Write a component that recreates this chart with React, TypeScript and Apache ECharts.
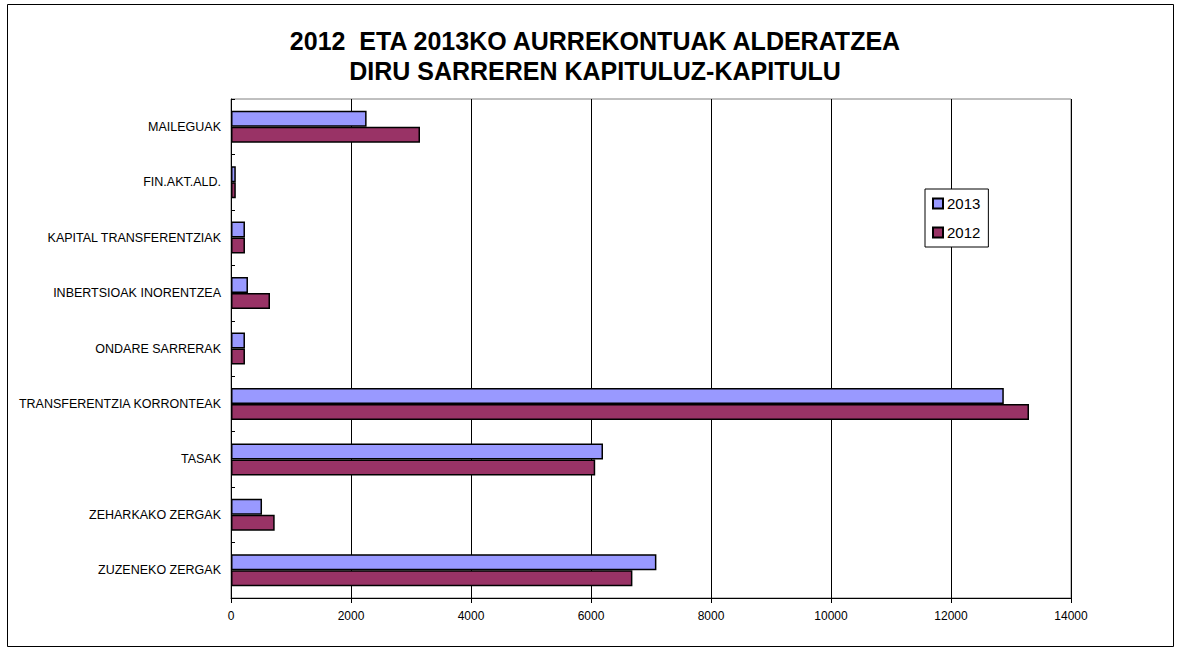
import React, { useEffect, useRef } from "react";
import * as echarts from "echarts";

const categories = [
  "MAILEGUAK",
  "FIN.AKT.ALD.",
  "KAPITAL TRANSFERENTZIAK",
  "INBERTSIOAK INORENTZEA",
  "ONDARE SARRERAK",
  "TRANSFERENTZIA KORRONTEAK",
  "TASAK",
  "ZEHARKAKO ZERGAK",
  "ZUZENEKO ZERGAK",
];
const values2013 = [2260, 80, 233, 283, 233, 12880, 6200, 517, 7090];
const values2012 = [3150, 80, 233, 650, 233, 13300, 6070, 728, 6690];
const xTicks = { min: 0, max: 14000, interval: 2000 };
const titleLines = ["2012  ETA 2013KO AURREKONTUAK ALDERATZEA", "DIRU SARREREN KAPITULUZ-KAPITULU"];

export default function App() {
  const ref = useRef<HTMLDivElement>(null);
  useEffect(() => {
    if (!ref.current) return;
    const chart = echarts.init(ref.current, null, { renderer: "svg" });
    const font = "Arial, 'Liberation Sans', sans-serif";
    chart.setOption({
      animation: false,
      backgroundColor: "#fff",
      textStyle: { fontFamily: font },
      title: {
        text: titleLines.join("\n"),
        left: 590,
        top: 21,
        textAlign: "center",
        textStyle: { fontSize: 25, fontWeight: "bold", color: "#000", lineHeight: 30, fontFamily: font },
      },
      graphic: [
        {
          type: "rect",
          shape: { x: 7.5, y: 4.5, width: 1166, height: 642 },
          style: { fill: "none", stroke: "#000", lineWidth: 1 },
          silent: true,
        },
      ],
      legend: {
        orient: "vertical",
        left: 925,
        top: 189,
        padding: [7, 8, 7, 7],
        itemWidth: 10,
        itemHeight: 10,
        itemGap: 14,
        borderColor: "#000",
        borderWidth: 1,
        backgroundColor: "#fff",
        icon: "rect",
        textStyle: { fontSize: 15, color: "#000", padding: [0, 0, 0, -1] },
        data: ["2013", "2012"],
      },
      grid: {
        left: 231,
        right: 108,
        top: 99,
        bottom: 51,
        show: true,
        borderColor: "#808080",
        borderWidth: 1,
      },
      xAxis: {
        type: "value",
        min: xTicks.min,
        max: xTicks.max,
        interval: xTicks.interval,
        axisLine: { show: true, lineStyle: { color: "#000" } },
        axisTick: { show: true, length: 5, lineStyle: { color: "#000" } },
        axisLabel: { fontSize: 12, color: "#000", margin: 12, formatter: (v: number) => String(v) },
        splitLine: { show: true, lineStyle: { color: "#000", width: 1 } },
      },
      yAxis: {
        type: "category",
        inverse: true,
        data: categories,
        axisLine: { show: true, lineStyle: { color: "#000" } },
        axisTick: { show: true, inside: true, length: 4, lineStyle: { color: "#000" } },
        axisLabel: { fontSize: 12.5, color: "#000", margin: 10 },
        splitLine: { show: false },
      },
      series: [
        {
          name: "2013",
          type: "bar",
          data: values2013,
          barWidth: 16,
          barGap: "0%",
          itemStyle: { color: "#9999FF", borderColor: "#000", borderWidth: 1.5 },
        },
        {
          name: "2012",
          type: "bar",
          data: values2012,
          barWidth: 16,
          barGap: "0%",
          itemStyle: { color: "#993366", borderColor: "#000", borderWidth: 1.5 },
        },
      ],
    });
    return () => chart.dispose();
  }, []);
  return (
    <div
      ref={ref}
      style={{ position: "absolute", left: 0, top: 0, width: 1179, height: 649 }}
    />
  );
}
